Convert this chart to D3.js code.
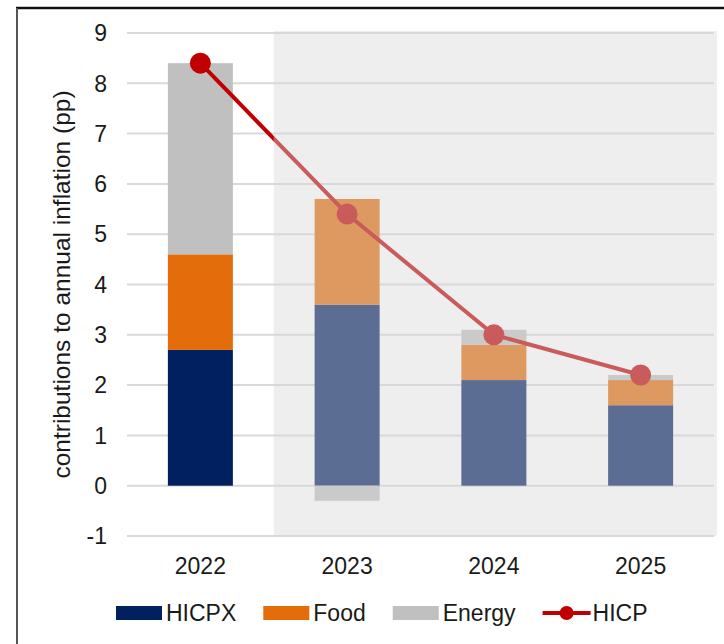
<!DOCTYPE html>
<html>
<head>
<meta charset="utf-8">
<script src="https://cdn.jsdelivr.net/npm/d3@7"></script>
<style>
  html, body { margin: 0; padding: 0; background: #fff; }
  svg text { font-family: "Liberation Sans", Arial, sans-serif; fill: #1a1a1a; }
</style>
</head>
<body>
<svg id="chart" width="724" height="644"></svg>
<script>
// chart data
const years = ["2022", "2023", "2024", "2025"];
const hicpx = [2.7, 3.6, 2.1, 1.6];
const food = [1.9, 2.1, 0.7, 0.5];
const energy = [3.8, -0.3, 0.3, 0.1];
const hicp = [8.4, 5.4, 3.0, 2.2];
const yTicks = [-1, 0, 1, 2, 3, 4, 5, 6, 7, 8, 9];
const seriesNames = ["HICPX", "Food", "Energy"];
const lineName = "HICP";

var colors = { HICPX: "#002060", Food: "#e46c0a", Energy: "#c0c0c0", HICP: "#c00000" };
var margin = { top: 33, left: 127 };
var plotRight = 714;
var plotBottom = 536;
var fontSize = "23px";

var svg = d3.select("#chart");

// frame lines (top + left)
svg.append("line").attr("x1", 16).attr("x2", 724).attr("y1", 8).attr("y2", 8)
  .attr("stroke", "#111").attr("stroke-width", 2.5);
svg.append("line").attr("x1", 17).attr("x2", 17).attr("y1", 8).attr("y2", 644)
  .attr("stroke", "#555").attr("stroke-width", 2);

var x = d3.scaleBand()
  .domain(years)
  .range([margin.left, plotRight])
  .paddingInner(0.557)
  .paddingOuter(0.2785);

var y = d3.scaleLinear()
  .domain([-1, 9])
  .range([plotBottom, margin.top]);

// gridlines
svg.append("g").selectAll("line")
  .data(yTicks).enter().append("line")
  .attr("x1", margin.left).attr("x2", plotRight)
  .attr("y1", d => y(d)).attr("y2", d => y(d))
  .attr("stroke", "#d9d9d9").attr("stroke-width", 2);

// y tick labels
svg.append("g").selectAll("text")
  .data(yTicks).enter().append("text")
  .attr("x", 107).attr("y", d => y(d))
  .attr("dy", "0.36em")
  .attr("text-anchor", "end")
  .style("font-size", fontSize)
  .text(d => d);

// y axis title
svg.append("text")
  .attr("transform", "translate(70," + ((y(9) + y(-1)) / 2) + ") rotate(-90)")
  .attr("text-anchor", "middle")
  .style("font-size", "24.5px")
  .text("contributions to annual inflation (pp)");

// x labels
svg.append("g").selectAll("text")
  .data(years).enter().append("text")
  .attr("x", d => x(d) + x.bandwidth() / 2)
  .attr("y", 574)
  .attr("text-anchor", "middle")
  .style("font-size", fontSize)
  .text(d => d);

// stacked bars
var table = years.map((yr, i) => ({ year: yr, HICPX: hicpx[i], Food: food[i], Energy: energy[i] }));
var stack = d3.stack().keys(seriesNames).offset(d3.stackOffsetDiverging);
var layers = stack(table);

svg.append("g").selectAll("g")
  .data(layers).enter().append("g")
  .attr("fill", d => colors[d.key])
  .selectAll("rect")
  .data(d => d).enter().append("rect")
  .attr("x", d => x(d.data.year))
  .attr("width", x.bandwidth())
  .attr("y", d => y(Math.max(d[0], d[1])))
  .attr("height", d => Math.abs(y(d[0]) - y(d[1])));

// HICP line
var valueline = d3.line()
  .x((d, i) => x(years[i]) + x.bandwidth() / 2)
  .y(d => y(d));

svg.append("path")
  .attr("d", valueline(hicp))
  .attr("fill", "none")
  .attr("stroke", colors.HICP)
  .attr("stroke-width", 4);

svg.append("g").selectAll("circle")
  .data(hicp).enter().append("circle")
  .attr("cx", (d, i) => x(years[i]) + x.bandwidth() / 2)
  .attr("cy", d => y(d))
  .attr("r", 10.5)
  .attr("fill", colors.HICP);

// projection shading over 2023-2025
var step = x.step();
var shadeX = x("2023") - step * x.paddingInner() / 2;
svg.append("rect")
  .attr("x", shadeX)
  .attr("y", y(9) - 2)
  .attr("width", plotRight + 3 - shadeX)
  .attr("height", y(-1) - y(9) + 2)
  .attr("fill", "rgb(214,214,214)")
  .attr("fill-opacity", 0.424);

// legend
var legend = svg.append("g").attr("transform", "translate(0,613)");
var lx = 116;
seriesNames.concat([lineName]).forEach(name => {
  if (name === lineName) {
    legend.append("line").attr("x1", lx).attr("x2", lx + 48)
      .attr("y1", 0).attr("y2", 0)
      .attr("stroke", colors.HICP).attr("stroke-width", 4);
    legend.append("circle").attr("cx", lx + 24).attr("cy", 0).attr("r", 7)
      .attr("fill", colors.HICP);
  } else {
    legend.append("rect").attr("x", lx).attr("y", -7)
      .attr("width", 46).attr("height", 14)
      .attr("fill", colors[name]);
  }
  var t = legend.append("text")
    .attr("x", lx + 50).attr("y", 0).attr("dy", "0.36em")
    .style("font-size", fontSize)
    .text(name);
  lx += 50 + t.node().getComputedTextLength() + 27;
});
</script>
</body>
</html>
